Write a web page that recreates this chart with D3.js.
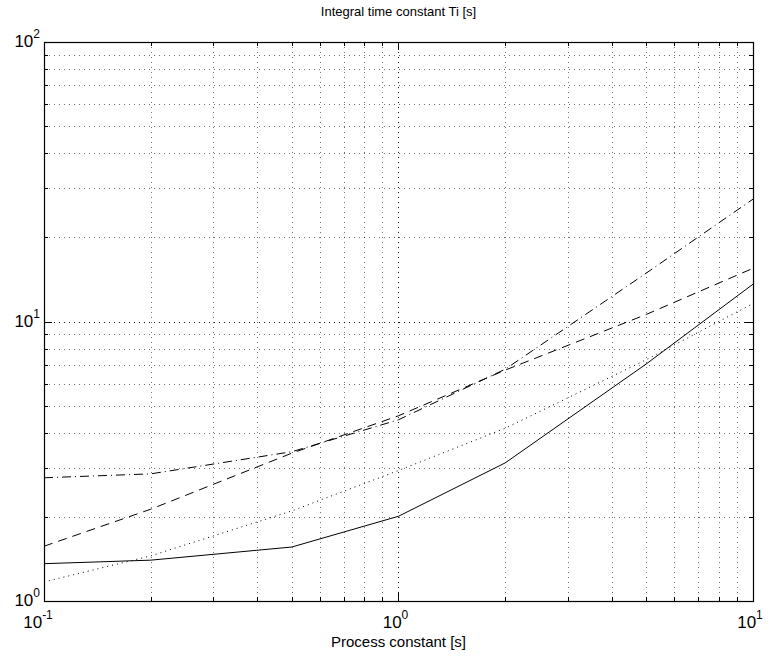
<!DOCTYPE html>
<html>
<head>
<meta charset="utf-8">
<script src="https://cdn.jsdelivr.net/npm/d3@7"></script>
<style>
  body { margin: 0; background: #fff; }
  text { font-family: "Liberation Sans", Arial, Helvetica, sans-serif; fill: #000; }
</style>
</head>
<body>
<div id="chart"></div>
<script>
// data
var processConst = [0.1, 0.2, 0.5, 1, 2, 5, 10];
var tiSolid   = [1.36, 1.40, 1.56, 2.01, 3.12, 7.05, 13.6];
var tiDashed  = [1.57, 2.13, 3.38, 4.6, 6.7, 10.6, 15.5];
var tiDotted  = [1.17, 1.45, 2.10, 2.93, 4.15, 7.3, 11.6];
var tiDashDot = [2.76, 2.85, 3.42, 4.45, 6.75, 14.9, 27.4];
var xTickExp = [-1, 0, 1];
var yTickExp = [0, 1, 2];

var margin = {top: 42, right: 18, bottom: 56, left: 44},
    width = 771 - margin.left - margin.right,
    height = 657 - margin.top - margin.bottom;

var svg = d3.select("#chart")
  .append("svg")
    .attr("width", 771)
    .attr("height", 657)
  .append("g")
    .attr("transform", "translate(" + margin.left + "," + margin.top + ")");

var x = d3.scaleLog().domain([0.1, 10]).range([0, width]);
var y = d3.scaleLog().domain([1, 100]).range([height, 0]);

var isMajor = function(v) { return Math.abs(Math.log10(v) - Math.round(Math.log10(v))) < 1e-9; };

// grid
var xt = x.ticks(), yt = y.ticks();
svg.append("g").selectAll("line")
  .data(xt.filter(function(d){ return d > 0.1 && d < 10; }))
  .enter().append("line")
    .attr("x1", function(d){ return Math.round(x(d)) + 0.5; })
    .attr("x2", function(d){ return Math.round(x(d)) + 0.5; })
    .attr("y1", 0).attr("y2", height)
    .attr("stroke", "#000")
    .attr("stroke-opacity", function(d){ return isMajor(d) ? 0.9 : 0.55; })
    .attr("stroke-dasharray", "1,4");
svg.append("g").selectAll("line")
  .data(yt.filter(function(d){ return d > 1 && d < 100; }))
  .enter().append("line")
    .attr("y1", function(d){ return Math.round(y(d)) + 0.5; })
    .attr("y2", function(d){ return Math.round(y(d)) + 0.5; })
    .attr("x1", 0).attr("x2", width)
    .attr("stroke", "#000")
    .attr("stroke-opacity", function(d){ return isMajor(d) ? 0.9 : 0.55; })
    .attr("stroke-dasharray", "1,4");

// inward ticks on all four sides
var ticks = svg.append("g").attr("stroke", "#000");
xt.forEach(function(d) {
  var len = isMajor(d) ? 8 : 4, px = Math.round(x(d)) + 0.5;
  ticks.append("line").attr("x1", px).attr("x2", px).attr("y1", height).attr("y2", height - len);
  ticks.append("line").attr("x1", px).attr("x2", px).attr("y1", 0).attr("y2", len);
});
yt.forEach(function(d) {
  var len = isMajor(d) ? 8 : 4, py = Math.round(y(d)) + 0.5;
  ticks.append("line").attr("y1", py).attr("y2", py).attr("x1", 0).attr("x2", len);
  ticks.append("line").attr("y1", py).attr("y2", py).attr("x1", width).attr("x2", width - len);
});

// box
svg.append("rect")
  .attr("x", 0.5).attr("y", 0.5)
  .attr("width", width).attr("height", height)
  .attr("fill", "none").attr("stroke", "#000").attr("stroke-width", 1.2);

// tick labels
xTickExp.forEach(function(e) {
  var t = svg.append("text")
    .attr("x", x(Math.pow(10, e)) - (e < 0 ? 6 : 3))
    .attr("y", height + 27)
    .attr("text-anchor", "middle")
    .style("font-size", "17px");
  t.append("tspan").text("10");
  t.append("tspan").attr("dy", -9).style("font-size", "12px").text(e);
});
yTickExp.forEach(function(e) {
  var t = svg.append("text")
    .attr("x", -4)
    .attr("y", y(Math.pow(10, e)) + 5)
    .attr("text-anchor", "end")
    .style("font-size", "17px");
  t.append("tspan").text("10");
  t.append("tspan").attr("dy", -9).style("font-size", "12px").text(e);
});

// lines
var line = function(vals) {
  return d3.line()
    .x(function(d, i){ return x(processConst[i]); })
    .y(function(d){ return y(d); })(vals);
};
var series = [
  {v: tiSolid,   dash: null},
  {v: tiDashed,  dash: "9,6"},
  {v: tiDotted,  dash: "1,4"},
  {v: tiDashDot, dash: "9,4,1,4"}
];
series.forEach(function(s) {
  svg.append("path")
    .attr("d", line(s.v))
    .attr("fill", "none")
    .attr("stroke", "#000")
    .attr("stroke-width", 1)
    .attr("stroke-dasharray", s.dash);
});

// title and label
svg.append("text")
  .attr("x", width / 2).attr("y", -26)
  .attr("text-anchor", "middle")
  .style("font-size", "13px")
  .text("Integral time constant Ti [s]");
svg.append("text")
  .attr("x", width / 2).attr("y", height + 46)
  .attr("text-anchor", "middle")
  .style("font-size", "15px")
  .text("Process constant [s]");
</script>
</body>
</html>
